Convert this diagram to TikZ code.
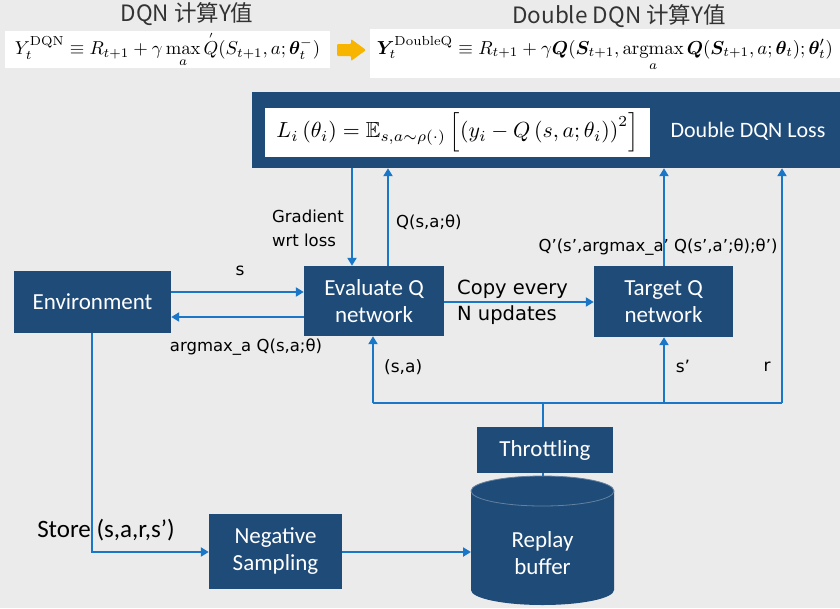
\documentclass[tikz,border=0pt]{standalone}
\usepackage{amsmath,amssymb,bm}
\usepackage{graphicx}
\usepackage[no-math]{fontspec}
\setmainfont{Carlito}
\newfontfamily\lblfont{DejaVu Sans}
\newfontfamily\cjk{Noto Sans CJK SC}
\usetikzlibrary{arrows.meta}
\definecolor{bg}{HTML}{EBEBEB}
\definecolor{boxblue}{HTML}{1F4B78}
\definecolor{linkblue}{HTML}{1A76C6}
\definecolor{gold}{HTML}{F7B500}
\tikzset{
  blk/.style={fill=boxblue, text=white, font=\fontsize{23}{27}\selectfont, align=center, inner sep=0pt},
  arr/.style={draw=linkblue, line width=2.6pt, -{Triangle[length=8pt,width=9pt]}},
  ln/.style={draw=linkblue, line width=2.6pt},
  lbl/.style={font=\lblfont\fontsize{16.5}{24}\selectfont, text=black, inner sep=0pt, align=left},
  lblmid/.style={font=\lblfont\fontsize{17}{20}\selectfont, text=black, inner sep=0pt},
  lblbig/.style={font=\lblfont\fontsize{19.5}{26}\selectfont, text=black, inner sep=0pt, align=left},
  head/.style={font=\cjk\fontsize{22.5}{25}\selectfont, text=black!80, inner sep=0pt},
  fbox/.style={fill=white, inner sep=0pt},
}
\begin{document}
\begin{tikzpicture}[x=1pt,y=-1pt]
\fill[bg] (0,0) rectangle (840,608);
\useasboundingbox (0,0) rectangle (840,608);

% headings
\node[head] (h1) at (187,14) {DQN 计算Y值};
\node[head] (h2) at (619,16) {Double DQN 计算Y值};

% formula strips
\node[fbox, minimum width=325pt, minimum height=37pt] (f1) at (167.5,49.5)
  {\resizebox{305pt}{!}{$\displaystyle Y_t^{\mathrm{DQN}} \equiv R_{t+1} + \gamma \max_a \overset{\scriptscriptstyle\prime}{Q}(S_{t+1}, a; \bm{\theta}_t^-)$}};
\node[fbox, minimum width=470pt, minimum height=49pt] (f2) at (605,53.5)
  {\resizebox{456pt}{!}{$\displaystyle \bm{Y}_t^{\mathrm{DoubleQ}} \equiv R_{t+1} + \gamma \bm{Q}(\bm{S}_{t+1}, \operatorname*{argmax}_a \bm{Q}(\bm{S}_{t+1}, a; \bm{\theta}_t); \bm{\theta}'_t)$}};

% orange arrow
\fill[gold, rounded corners=1pt] (337,44) -- (351,44) -- (351,39) -- (366,50) -- (351,61) -- (351,56) -- (337,56) -- cycle;

% loss box
\node[blk, minimum width=588pt, minimum height=76pt] (loss) at (546,130) {};
\node[fbox, minimum width=385pt, minimum height=49pt] (lossf) at (457.5,132.5)
  {\resizebox{362pt}{!}{$L_i\left(\theta_i\right) = \mathbb{E}_{s,a\sim\rho(\cdot)}\left[\left(y_i - Q\left(s,a;\theta_i\right)\right)^2\right]$}};
\node[text=white, font=\fontsize{22}{24}\selectfont, inner sep=0pt] (losslbl) at (748,131) {Double DQN Loss};

% boxes
\node[blk, minimum width=157pt, minimum height=62pt] (env) at (92.5,302) {Environment};
\node[blk, minimum width=140pt, minimum height=70pt] (eval) at (374,301) {Evaluate Q\\network};
\node[blk, minimum width=139pt, minimum height=71pt] (tq) at (663.5,301.5) {Target Q\\network};
\node[blk, minimum width=136pt, minimum height=46pt] (thr) at (545,450) {Throttling};
\node[blk, minimum width=133pt, minimum height=75pt] (ns) at (275.5,551.5) {Negative\\Sampling};

% replay buffer cylinder
\fill[boxblue] (471,491) -- (471,590) arc[start angle=180,end angle=360,x radius=71.5pt,y radius=15pt]
  -- (614,491) arc[start angle=0,end angle=180,x radius=71.5pt,y radius=15pt] -- cycle;
\draw[boxblue!70!white, line width=0.8pt] (542.5,491) ellipse[x radius=71.5pt, y radius=15pt];
\node[blk] (rb) at (542.5,553) {Replay\\buffer};
\coordinate (rbtop) at (543,476);
\coordinate (rbwest) at (471,552);

% bus
\coordinate (busL) at (373,403);
\coordinate (busM) at (543,403);
\coordinate (busS) at (664,403);
\coordinate (busR) at (782,403);
\draw[ln] (busL) -- (busR);
\draw[arr] (busL) -- (eval.south -| busL);
\draw[arr] (busS) -- (tq.south -| busS);
\draw[arr] (busR) -- (loss.south -| busR);
\draw[ln] (thr.north -| busM) -- (busM);
\draw[ln] (thr.south -| rbtop) -- (rbtop);

% loss links
\draw[arr] (loss.south -| 352,0) -- (eval.north -| 352,0);
\draw[arr] (eval.north -| 388,0) -- (loss.south -| 388,0);
\draw[arr] (tq.north -| 664,0) -- (loss.south -| 664,0);

% env / eval / target
\draw[arr] (env.east |- 0,292) -- (eval.west |- 0,292);
\draw[arr] (eval.west |- 0,317) -- (env.east |- 0,317);
\draw[arr] (eval.east |- 0,302) -- (tq.west |- 0,302);

% store path
\draw[arr] (env.south -| 92,0) -- (92,552) -- (ns.west |- 0,552);
\draw[arr] (ns.east |- 0,552) -- (rbwest);

% labels
\node[lbl] (lgrad) at (308,228) {Gradient\\wrt loss};
\node[lbl, anchor=west] (lq) at (396,222) {Q(s,a;θ)};
\node[lbl] (lqp) at (658,247) {Q’(s’,argmax\_a’ Q(s’,a’;θ);θ’)};
\node[lblmid] (ls) at (240,271) {s};
\node[lbl] (larg) at (246,347) {argmax\_a Q(s,a;θ)};
\node[lblbig, anchor=west] (lcopy) at (457,302) {Copy every\\N updates};
\node[lblmid, anchor=west] (lsa) at (384,367) {(s,a)};
\node[lblmid] (lsp) at (683,366) {s’};
\node[lblmid] (lr) at (767,367) {r};
\node[inner sep=0pt, font=\fontsize{25}{28}\selectfont] (lstore) at (106,530) {Store (s,a,r,s’)};
\end{tikzpicture}
\end{document}
